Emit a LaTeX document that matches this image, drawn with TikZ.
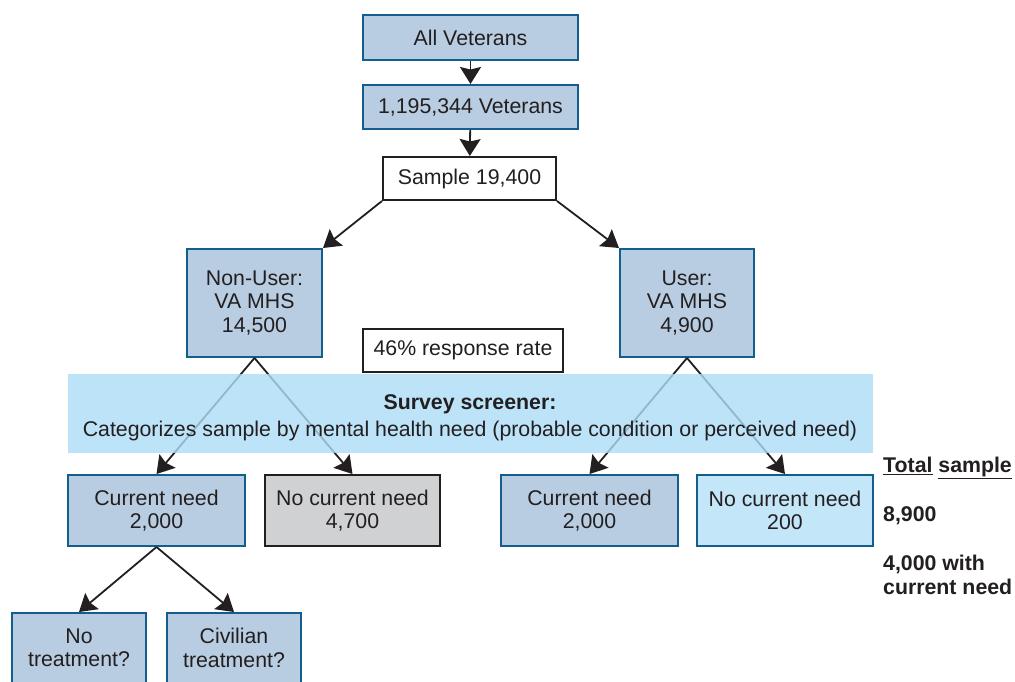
\documentclass[tikz,border=0pt]{standalone}
\usepackage{fontspec}
\setmainfont{Liberation Sans}
\usetikzlibrary{arrows.meta}
\definecolor{boxfill}{HTML}{B8CDE1}
\definecolor{boxedge}{HTML}{145E8E}
\definecolor{grayfill}{HTML}{D0D1D3}
\definecolor{paleblue}{HTML}{C3E6F8}
\definecolor{bandfill}{HTML}{ACDDF5}
\definecolor{ink}{HTML}{231F20}
\tikzset{
  base/.style={rectangle, inner sep=0pt, align=center, line width=2pt,
    font=\fontsize{21.3}{23.5}\selectfont, text=ink},
  bluebox/.style={base, draw=boxedge, fill=boxfill},
  whitebox/.style={base, draw=ink, fill=white},
  graybox/.style={base, draw=ink, fill=grayfill},
  palebox/.style={base, draw=boxedge, fill=paleblue},
  flow/.style={line width=1.8pt, draw=ink, -{Stealth[length=17pt,width=21pt,inset=2.5pt]}},
  sidetext/.style={anchor=west, inner sep=0pt, align=left, text=ink,
    font=\bfseries\fontsize{21.3}{23.5}\selectfont},
}
\begin{document}
\begin{tikzpicture}[x=1pt,y=-1pt]
\clip (0,0) rectangle (1015,681);
\fill[white] (0,0) rectangle (1015,681);

% top chain
\node[bluebox, minimum width=215pt, minimum height=45pt] (all) at (470.5,37.5) {All Veterans};
\node[bluebox, minimum width=215pt, minimum height=44pt] (pop) at (470.5,107) {1,195,344 Veterans};
\node[whitebox, minimum width=173pt, minimum height=43pt] (samp) at (469.5,178.5) {Sample 19,400};

% users / non-users
\node[bluebox, minimum width=135pt, minimum height=108pt] (nonuser) at (254.5,303) {Non-User:\\VA MHS\\14,500};
\node[bluebox, minimum width=134pt, minimum height=108pt] (user) at (687,303) {User:\\VA MHS\\4,900};

% need categories
\node[bluebox, minimum width=177pt, minimum height=71pt] (cn1) at (156.5,510.5) {Current need\\2,000};
\node[graybox, minimum width=175pt, minimum height=71pt] (nc1) at (352.5,510.5) {No current need\\4,700};
\node[bluebox, minimum width=177pt, minimum height=71pt] (cn2) at (589.5,510.5) {Current need\\2,000};
\node[palebox, minimum width=176pt, minimum height=71pt] (nc2) at (785,510.5) {No current need\\200};

% treatment outcomes
\node[bluebox, minimum width=134pt, minimum height=70pt] (notr) at (79,648) {No\\treatment?};
\node[bluebox, minimum width=134pt, minimum height=70pt] (civ) at (234,648) {Civilian\\treatment?};

% connectors
\draw[flow] (all) -- (pop);
\draw[flow] (pop) -- (samp);
\draw[flow] (samp.south west) -- (nonuser.north east);
\draw[flow] (samp.south east) -- (user.north west);
\draw[flow] (nonuser.south) -- (cn1.north);
\draw[flow] (nonuser.south) -- (nc1.north);
\draw[flow] (user.south) -- (cn2.north);
\draw[flow] (user.south) -- (nc2.north);
\draw[flow] (cn1.south) -- (notr.north);
\draw[flow] (cn1.south) -- (civ.north);

% screener band over the connectors
\fill[bandfill, fill opacity=0.8] (68,374) rectangle (873,453);
\node[base, font=\bfseries\fontsize{21.3}{23.5}\selectfont] (scrtitle) at (470,404) {Survey screener:};
\node[base] (scrtext) at (470,431) {Categorizes sample by mental health need (probable condition or perceived need)};

\node[whitebox, minimum width=200pt, minimum height=43pt] (resp) at (463,350.5) {46\% response rate};

% totals
\node[sidetext] (tot) at (883,468) {\underline{Total} \underline{sample}};
\node[sidetext] (n8900) at (883,516) {8,900};
\node[sidetext] (n4000) at (883,575) {4,000 with\\current need};
\end{tikzpicture}
\end{document}
